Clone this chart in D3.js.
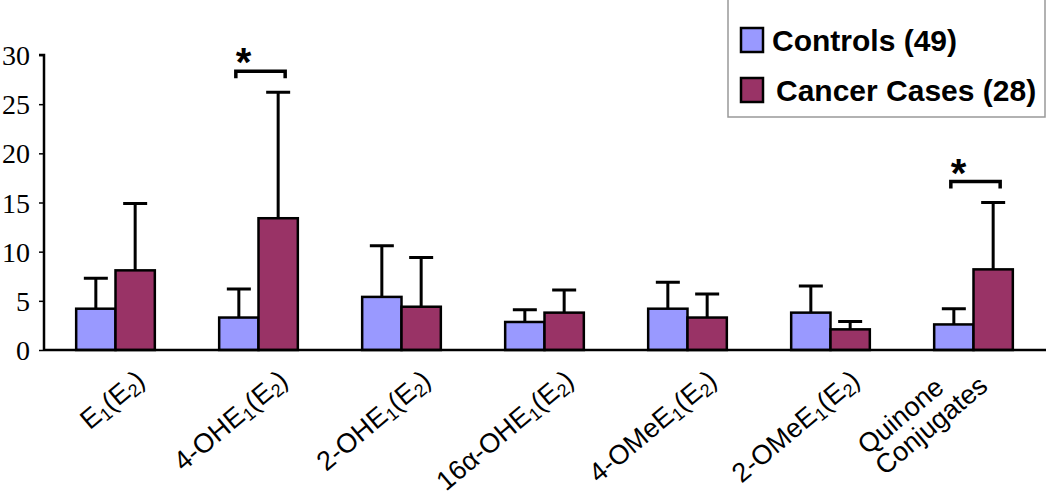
<!DOCTYPE html>
<html>
<head>
<meta charset="utf-8">
<script src="https://cdn.jsdelivr.net/npm/d3@7"></script>
<style>
  body { margin: 0; background: #fff; }
  svg { display: block; }
</style>
</head>
<body>
<svg></svg>
<script>
const width = 1050;
const height = 501;

// data
const categories = ["E1(E2)", "4-OHE1(E2)", "2-OHE1(E2)", "16α-OHE1(E2)", "4-OMeE1(E2)", "2-OMeE1(E2)", "Quinone Conjugates"];
// label pieces: [text, isSubscript], one array per line
const labelParts = [
    [[["E", 0], ["1", 1], ["(E", 0], ["2", 1], [")", 0]]],
    [[["4-OHE", 0], ["1", 1], ["(E", 0], ["2", 1], [")", 0]]],
    [[["2-OHE", 0], ["1", 1], ["(E", 0], ["2", 1], [")", 0]]],
    [[["16α-OHE", 0], ["1", 1], ["(E", 0], ["2", 1], [")", 0]]],
    [[["4-OMeE", 0], ["1", 1], ["(E", 0], ["2", 1], [")", 0]]],
    [[["2-OMeE", 0], ["1", 1], ["(E", 0], ["2", 1], [")", 0]]],
    [[["Quinone", 0]], [["Conjugates", 0]]]
];
const seriesNames = ["Controls (49)", "Cancer Cases (28)"];
const controls = [4.2, 3.3, 5.4, 2.85, 4.2, 3.8, 2.6];
const controlsErr = [7.3, 6.2, 10.6, 4.1, 6.9, 6.5, 4.2];
const cases = [8.1, 13.4, 4.4, 3.8, 3.3, 2.1, 8.2];
const casesErr = [14.9, 26.2, 9.4, 6.1, 5.7, 2.9, 15.0];
const significant = [1, 6];
const yTicks = [0, 5, 10, 15, 20, 25, 30];
const colors = ["#9999ff", "#993366"];

let svg = d3.select("svg").attr("width", width).attr("height", height);

const x0 = d3.scaleBand().domain(categories).range([44, 1045]).paddingInner(0.45).paddingOuter(0.225);
const x1 = d3.scaleBand().domain([0, 1]).range([0, x0.bandwidth()]);
const y = d3.scaleLinear().domain([0, 30]).range([350, 55]);

// y axis
let yAxis = svg.append("g")
    .attr("transform", "translate(44,0)")
    .call(d3.axisLeft(y).tickValues(yTicks).tickSize(5).tickPadding(9));
yAxis.select(".domain").attr("stroke-width", 2.5).attr("d", `M-5,${y(30)}H0V${y(0)}`);
yAxis.selectAll(".tick line").attr("stroke-width", 1.5);
yAxis.selectAll(".tick text")
    .style("font-family", "'Liberation Serif', 'Times New Roman', serif")
    .style("font-size", "28px")
    .attr("fill", "#000")
    .attr("dy", "0.34em");

// bars
const series = [
    { vals: controls, err: controlsErr },
    { vals: cases, err: casesErr }
];
series.forEach((s, si) => {
    let g = svg.append("g");
    g.selectAll("rect")
        .data(categories)
        .join("rect")
        .attr("x", (d) => x0(d) + x1(si))
        .attr("y", (d, i) => y(s.vals[i]))
        .attr("width", x1.bandwidth())
        .attr("height", (d, i) => y(0) - y(s.vals[i]))
        .attr("fill", colors[si])
        .attr("stroke", "#000")
        .attr("stroke-width", 2.5);
    //error bars
    g.selectAll("path")
        .data(categories)
        .join("path")
        .attr("d", (d, i) => {
            const cx = x0(d) + x1(si) + x1.bandwidth() / 2;
            return `M${cx},${y(s.vals[i])}V${y(s.err[i])}M${cx - 12},${y(s.err[i])}H${cx + 12}`;
        })
        .attr("fill", "none")
        .attr("stroke", "#000")
        .attr("stroke-width", 3);
});

// x axis line
svg.append("line")
    .attr("x1", 44).attr("x2", 1046)
    .attr("y1", y(0)).attr("y2", y(0))
    .attr("stroke", "#000")
    .attr("stroke-width", 2.5);

// significance brackets
significant.forEach((i) => {
    const c = categories[i];
    const bx = x0(c) + x1(0) + x1.bandwidth() / 2 - 3;
    const ex = x0(c) + x1(1) + x1.bandwidth() / 2 + 7;
    const by = y(casesErr[i]) - 21;
    svg.append("path")
        .attr("d", `M${bx},${by + 7}V${by}H${ex}V${by + 7}`)
        .attr("fill", "none")
        .attr("stroke", "#000")
        .attr("stroke-width", 3.5);
    svg.append("text")
        .attr("x", bx)
        .attr("y", by + 5)
        .style("font-family", "'Liberation Sans', Arial, sans-serif")
        .style("font-weight", "bold")
        .style("font-size", "40px")
        .text("*");
});

// category labels
const lh = 27;
labelParts.forEach((lines, i) => {
    const cx = x0(categories[i]) + x0.bandwidth() / 2;
    let lg = svg.append("g")
        .attr("transform", lines.length > 1
            ? `translate(${cx - 28},${y(0) + 40}) rotate(-40)`
            : `translate(${cx + 31},${y(0) + 33}) rotate(-40)`);
    lines.forEach((parts, li) => {
        let t = lg.append("text")
            .attr("x", 0)
            .attr("y", li * lh)
            .attr("text-anchor", lines.length > 1 ? "start" : "end")
            .style("font-family", "'Liberation Sans', Arial, sans-serif")
            .style("font-size", "27px");
        parts.forEach(([txt, sub]) => {
            t.append("tspan")
                .attr("baseline-shift", sub ? "-22%" : null)
                .style("font-size", sub ? "18px" : null)
                .text(txt);
        });
    });
    if (lines.length > 1) {
        // left aligned block, first line ends at the anchor
        const w = lg.select("text").node().getComputedTextLength();
        lg.selectAll("text").attr("x", -w);
    }
});

// legend
let legend = svg.append("g");
legend.append("rect")
    .attr("x", 728).attr("y", -2)
    .attr("width", 317).attr("height", 119)
    .attr("fill", "#fff")
    .attr("stroke", "#999")
    .attr("stroke-width", 1.5);
seriesNames.forEach((name, i) => {
    legend.append("rect")
        .attr("x", 741).attr("y", 28 + i * 50)
        .attr("width", 22).attr("height", 24)
        .attr("fill", colors[i])
        .attr("stroke", "#000")
        .attr("stroke-width", 2.5);
    legend.append("text")
        .attr("x", i === 0 ? 772 : 776)
        .attr("y", 51 + i * 50)
        .style("font-family", "'Liberation Sans', Arial, sans-serif")
        .style("font-weight", "bold")
        .style("font-size", "30px")
        .text(name);
});
</script>
</body>
</html>
